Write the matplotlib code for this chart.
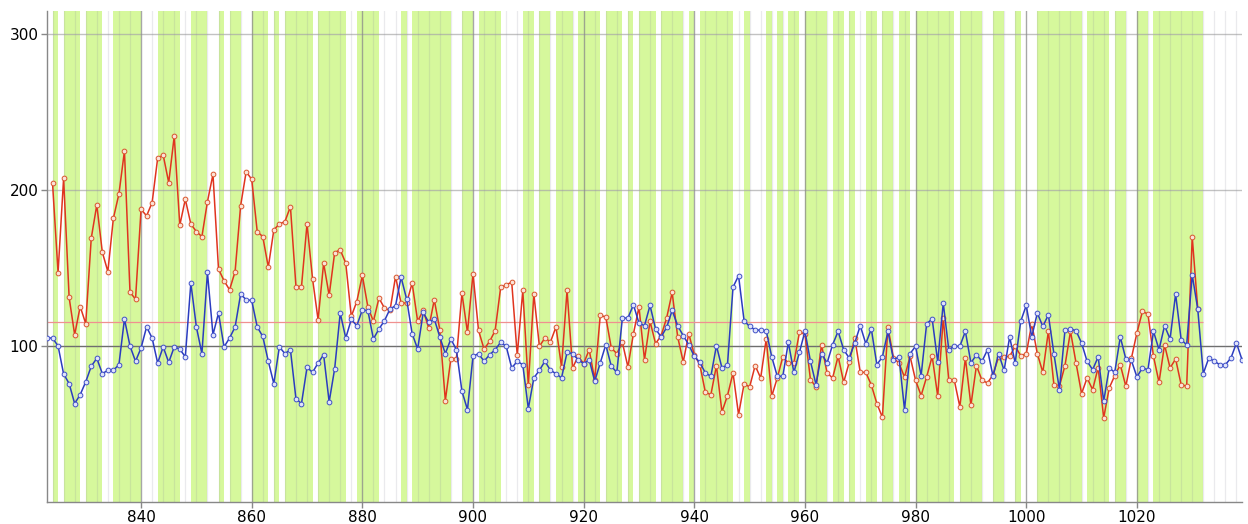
import numpy as np
import matplotlib
matplotlib.use("Agg")
import matplotlib.pyplot as plt
from matplotlib.ticker import MultipleLocator

# Blue series: one value per integer step, 823..1039
blue_start = 823
blue_values = [
    105.1, 105.1, 100.0, 82.1, 75.9, 63.1, 68.8, 77.0, 87.0, 92.1,
    82.3, 84.4, 84.4, 88.0, 117.3, 100.0, 90.2, 98.7, 112.2, 105.1,
    89.1, 99.4, 89.5, 99.4, 98.0, 93.0, 140.3, 112.2, 95.1, 147.1,
    107.2, 121.1, 99.4, 105.1, 112.2, 133.3, 129.6, 129.2, 112.2, 106.1,
    90.2, 75.9, 99.4, 95.1, 97.6, 66.1, 63.1, 86.3, 83.1, 89.1,
    94.4, 64.2, 85.5, 121.1, 105.1, 117.0, 113.0, 123.2, 122.6, 104.5,
    110.9, 116.2, 123.7, 125.8, 144.1, 130.1, 107.9, 98.0, 121.5, 115.1,
    117.3, 105.8, 95.1, 104.5, 97.6, 71.0, 59.2, 93.4, 95.1, 90.2,
    94.4, 97.6, 102.3, 99.8, 85.9, 90.2, 88.0, 59.9, 79.5, 84.4,
    90.2, 84.4, 82.3, 79.5, 95.9, 95.1, 91.2, 88.7, 91.2, 77.4,
    89.1, 100.8, 87.0, 83.1, 117.9, 117.9, 126.4, 114.7, 113.0, 126.0,
    110.9, 105.8, 111.9, 122.8, 113.0, 106.6, 100.8, 93.4, 89.5, 82.7,
    80.6, 100.2, 85.9, 88.0, 137.7, 145.0, 116.2, 112.5, 110.4, 110.0,
    109.8, 93.0, 80.6, 80.6, 102.3, 83.1, 95.9, 109.4, 90.2, 75.2,
    95.1, 89.1, 100.8, 109.4, 97.6, 92.3, 101.9, 113.0, 101.5, 110.9,
    88.0, 93.0, 109.4, 91.2, 93.0, 59.2, 95.1, 99.8, 81.0, 114.3,
    117.3, 89.8, 127.5, 97.6, 99.8, 99.8, 109.4, 89.1, 94.4, 90.2,
    97.6, 80.6, 95.1, 84.4, 105.8, 89.1, 115.8, 126.0, 105.8, 121.1,
    112.5, 120.0, 95.1, 72.0, 110.0, 110.9, 109.8, 101.9, 90.2, 84.8,
    93.0, 64.6, 85.9, 83.1, 105.8, 91.7, 90.8, 80.2, 85.9, 84.8,
    109.4, 97.6, 113.0, 104.5, 133.3, 104.0, 100.8, 145.6, 123.7, 82.3,
    92.3, 90.2, 88.0, 88.0, 92.3, 101.9, 91.2,
]

# Red series: one value per integer step, 824..1031
red_start = 824
red_values = [
    204.3, 147.0, 207.5, 131.1, 107.2, 125.3, 114.3, 169.1, 190.4, 160.1,
    147.7, 181.9, 197.4, 225.0, 134.5, 130.0, 187.6, 183.4, 191.9, 220.3,
    222.4, 204.7, 234.5, 177.4, 194.0, 178.2, 173.3, 170.1, 192.5, 210.0,
    149.3, 141.8, 136.0, 147.7, 190.0, 211.7, 206.8, 173.3, 170.1, 150.5,
    174.4, 178.2, 179.7, 189.3, 138.1, 138.1, 178.2, 143.0, 116.8, 153.1,
    132.4, 159.9, 161.6, 153.1, 119.0, 128.5, 145.2, 125.0, 115.8, 130.7,
    124.3, 122.8, 144.5, 127.5, 127.5, 140.3, 115.8, 122.8, 111.5, 129.6,
    110.4, 65.0, 91.9, 91.9, 133.9, 108.7, 146.3, 110.0, 98.0, 102.9,
    109.8, 137.5, 139.2, 140.9, 94.0, 135.6, 74.8, 133.3, 99.8, 105.1,
    102.6, 112.2, 86.6, 135.6, 85.9, 93.4, 88.7, 97.6, 78.4, 119.6,
    118.6, 98.7, 95.1, 102.3, 86.6, 107.9, 124.9, 91.2, 115.8, 101.5,
    106.6, 117.9, 134.3, 105.8, 89.8, 107.9, 94.4, 88.0, 70.3, 68.8,
    87.4, 57.8, 68.2, 82.7, 56.0, 75.7, 73.8, 87.4, 79.5, 104.5,
    67.8, 79.5, 93.0, 89.1, 89.1, 108.7, 107.9, 78.4, 73.8, 100.8,
    82.7, 79.5, 93.4, 76.7, 89.5, 105.1, 83.1, 83.1, 75.0, 63.1,
    54.3, 112.2, 92.3, 89.1, 80.0, 93.4, 78.0, 68.2, 80.2, 93.4,
    67.8, 117.9, 78.0, 78.0, 61.0, 92.3, 62.0, 87.4, 78.0, 76.3,
    81.6, 93.0, 93.0, 93.4, 99.8, 93.8, 95.0, 114.3, 95.1, 83.1,
    109.4, 75.2, 74.2, 87.4, 109.4, 89.1, 69.5, 79.5, 72.0, 86.2,
    53.9, 73.1, 81.0, 88.0, 74.2, 92.0, 108.3, 122.1, 120.5, 93.4,
    76.7, 100.8, 85.9, 91.7, 75.2, 74.2, 170.0, 124.0,
]

# Highlighted intervals [start, end)
band_start = [824, 826, 830, 835, 843, 849, 854, 856, 860, 864, 866, 872,
              879, 887, 889, 898, 901, 909, 912, 915, 919, 924, 928, 930,
              934, 939, 941, 949, 953, 955, 957, 960, 965, 968, 971, 974,
              977, 980, 988, 994, 998, 1002, 1011, 1016, 1020, 1023]
band_end = [825, 829, 833, 840, 847, 852, 855, 858, 863, 865, 871, 877,
            883, 888, 896, 900, 905, 911, 914, 918, 923, 927, 929, 933,
            938, 940, 947, 950, 954, 956, 959, 964, 967, 969, 973, 976,
            979, 987, 992, 996, 999, 1010, 1015, 1018, 1022, 1032]

red_level = 115.4
base_level = 100
x_ticks = [840, 860, 880, 900, 920, 940, 960, 980, 1000, 1020]
y_ticks = [100, 200, 300]

blue_x = np.arange(blue_start, blue_start + len(blue_values))
red_x = np.arange(red_start, red_start + len(red_values))

fig = plt.figure(figsize=(12.48, 5.24), dpi=100)
ax = fig.add_axes([47 / 1248, 1 - 502 / 524, (1242 - 47) / 1248, (502 - 11) / 524])

for a, b in zip(band_start, band_end):
    ax.axvspan(a, b, color="#d6f89c", lw=0, zorder=0)

# grid: fine verticals every 2, strong every 20
ax.xaxis.set_minor_locator(MultipleLocator(2))
ax.grid(which="minor", axis="x", color="#8c8ca0", alpha=0.18, lw=0.9, zorder=1)
ax.grid(which="major", axis="x", color="#8a8a8a", alpha=0.75, lw=1.0, zorder=1)
for yv in y_ticks:
    if yv == base_level:
        ax.axhline(yv, color="#6e6e6e", lw=1.0, zorder=1.5)
    else:
        ax.axhline(yv, color="#a8a8a8", alpha=0.7, lw=1.0, zorder=1.5)

ax.hlines(red_level, blue_start, band_end[-1], color="#f09090", lw=0.9, zorder=1.6)

ax.plot(red_x, red_values, color="#e0341f", lw=1.1, marker="o", ms=3.4,
        mfc="#fbe3d8", mec="#d9552e", mew=0.7, zorder=3)
ax.plot(blue_x, blue_values, color="#2b3cc0", lw=1.1, marker="o", ms=3.4,
        mfc="#e0e4fa", mec="#4050c8", mew=0.7, zorder=4)

ax.set_xlim(823, 1039)
ax.set_ylim(0, 314.7)
ax.set_xticks(x_ticks)
ax.set_yticks(y_ticks)
ax.tick_params(axis="both", which="major", labelsize=11, length=4, width=1,
               color="#888888", pad=2)
ax.tick_params(axis="x", which="minor", length=0)
for side in ("top", "right"):
    ax.spines[side].set_visible(False)
for side in ("left", "bottom"):
    ax.spines[side].set_color("#888888")
    ax.spines[side].set_linewidth(1.0)

fig.savefig("out.png", dpi=100)
